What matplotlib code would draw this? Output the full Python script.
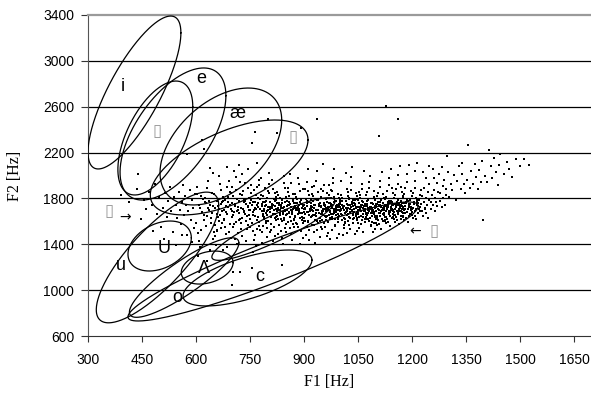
import numpy as np
import matplotlib
matplotlib.use("Agg")
import matplotlib.pyplot as plt

plt.rcParams['font.family'] = ['Liberation Sans', 'DejaVu Sans']

# ---------------- data ----------------
x_ticks = [300, 450, 600, 750, 900, 1050, 1200, 1350, 1500, 1650]
y_ticks = [600, 1000, 1400, 1800, 2200, 2600, 3000, 3400]

# vowel ellipses: centre F1, centre F2, half-range F1, half-range F2, correlation
ell_names = ["i", "ɪ", "e", "æ", "ɛ", "ɝ", "u", "o", "ɑ", "ɔ", "ʌ", "ʊ"]
ell_f1 = [429, 487, 536, 669, 692, 814, 493, 567, 815, 743, 631, 499]
ell_f2 = [2724, 2327, 2362, 2253, 2070, 1250, 1285, 1110, 1533, 1106, 1197, 1385]
ell_a = [129, 104, 147, 169, 219, 403, 170, 152, 171, 179, 72, 88]
ell_b = [667, 497, 576, 510, 414, 519, 570, 347, 273, 244, 144, 218]
ell_rho = [0.78, 0.55, 0.58, 0.45, 0.58, 0.93, 0.80, 0.87, 0.89, 0.64, 0.30, 0.33]

# vowel labels
lab_text = ["i", "e", "æ", "U", "u", "Λ", "o", "c"]
lab_f1 = [397, 614, 714, 511, 392, 622, 547, 778]
lab_f2 = [2772, 2842, 2545, 1359, 1219, 1193, 940, 1123]

# labels whose glyphs were missing (shown as empty boxes)
box_f1 = [492, 869, 358, 1261]
box_f2 = [2388, 2336, 1690, 1516]
arrow_text = ["→", "←"]
arrow_f1 = [403, 1208]
arrow_f2 = [1635, 1515]

# measured formant points (F1, F2)
pts = [
# sparse left part and outliers
(392,1830),(415,1765),(436,1880),(448,1620),(439,2013),
(455,1790),(462,1705),(470,1860),(478,1745),(485,1930),(492,1660),(497,1810),(480,1520),
(503,1555),(508,1720),(514,1845),(519,1640),(523,1775),(527,1900),(531,1690),(536,1505),(540,1810),(544,1745),(548,1625),(510,1450),(545,1390),
(552,1860),(555,1700),(558,1580),(561,1770),(564,1920),(567,1655),(570,1820),(573,1740),(576,1480),(579,1690),(582,1870),(585,1610),(588,1785),(591,1720),(594,1540),(597,1835),(560,1480),(590,1420),(575,2188),
(617,2310),(622,2231),(639,2065),(647,2022),(686,2074),(705,2040),(720,2090),(745,2060),(770,2110),
(756,2283),(764,2379),(800,2493),(825,2371),(892,2414),(937,2493),(1108,2345),(1128,2606),(1161,2493),
(605,1300),(630,1250),(658,1525),(675,1350),(700,1045),(703,1158),(722,1158),(755,1193),(758,1333),(839,1219),
# dense band, 25 Hz strips
(612,1713),(601,1588),(619,1796),(607,1431),(623,1655),(604,1842),(615,1527),(609,1741),(621,1610),(603,1902),(617,1683),(611,1376),(624,1768),(606,1495),(613,1820),
(638,1742),(627,1561),(645,1669),(631,1887),(649,1508),(634,1718),(641,1625),(626,1803),(647,1444),(636,1697),(629,1759),(643,1582),(633,1948),(648,1731),(640,1352),(630,1646),(644,1851),(637,1779),
(663,1704),(651,1835),(672,1587),(657,1668),(668,1752),(654,1471),(674,1813),(660,1636),(666,1928),(652,1719),(670,1544),(658,1781),(664,1603),(673,1693),(655,1398),(669,1871),(661,1736),(667,1652),(653,1564),(671,1769),(659,1512),(665,1995),
(688,1727),(679,1614),(697,1848),(683,1682),(692,1509),(676,1775),(699,1641),(685,1903),(681,1553),(694,1746),(677,1697),(690,1812),(698,1459),(686,1665),(680,1789),(695,1576),(684,1734),(691,1950),(678,1621),(696,1709),(687,1374),(693,1858),(682,1493),(689,1765),(699,1688),
(713,1694),(702,1823),(720,1612),(707,1749),(724,1533),(710,1877),(704,1659),(717,1726),(722,1941),(705,1581),(715,1795),(708,1448),(719,1671),(701,1762),(723,1620),(711,1985),(716,1703),(703,1555),(721,1839),(709,1734),(714,1406),(706,1685),(718,1778),(712,1597),(724,1713),(700,1904),(717,1502),
(739,1753),(728,1626),(746,1807),(733,1692),(749,1548),(731,1869),(743,1721),(726,1589),(737,1781),(748,1654),(735,1936),(729,1473),(744,1738),(740,1605),(727,1828),(747,1697),(732,1768),(742,1530),(736,1666),(745,1893),(730,1711),(741,1643),(738,1427),(734,1789),(749,1760),(728,2012),(744,1571),(732,1680),
(763,1718),(752,1851),(771,1640),(757,1767),(774,1562),(760,1695),(754,1913),(768,1744),(765,1480),(751,1623),(773,1803),(758,1679),(769,1537),(756,1741),(762,1872),(770,1612),(753,1785),(766,1706),(774,1961),(759,1655),(767,1829),(761,1441),(772,1728),(755,1584),(764,1771),(750,1699),(769,1898),(757,1519),(763,1649),(771,1758),(766,1383),
(788,1706),(777,1792),(795,1590),(782,1737),(799,1861),(785,1646),(779,1523),(792,1773),(797,1687),(776,1918),(790,1618),(783,1752),(798,1464),(780,1829),(794,1669),(786,1561),(778,1712),(796,1800),(789,1634),(781,1977),(793,1743),(784,1505),(799,1721),(787,1663),(791,1887),(776,1597),(795,1778),(782,1414),(790,1689),(785,1818),(797,1545),
(812,1733),(801,1602),(820,1849),(806,1681),(824,1757),(809,1526),(816,1794),(803,1930),(822,1640),(811,1718),(818,1469),(805,1771),(823,1609),(814,1883),(800,1697),(819,1738),(808,1581),(821,1812),(813,1663),(804,2021),(817,1550),(810,1751),(824,1692),(802,1844),(815,1428),(807,1726),(820,1626),(812,1964),(818,1779),(806,1506),(823,1704),
(837,1713),(826,1856),(845,1633),(831,1744),(849,1578),(834,1805),(841,1685),(828,1490),(846,1767),(836,1621),(843,1932),(829,1702),(848,1540),(839,1786),(833,1657),(827,1833),(844,1729),(838,1452),(832,1675),(847,1890),(840,1599),(830,1759),(842,1713),(835,1517),(849,1816),(826,1648),(844,1996),(836,1741),(831,1571),(841,1404),(846,1688),
(866,1693),(853,1779),(872,1552),(858,1824),(861,1640),(874,1736),(850,1507),(869,1711),(856,1891),(863,1599),(871,1760),(852,1665),(867,1436),(859,1747),(873,1622),(855,1853),(864,1728),(870,1578),(857,1684),(862,2010),(868,1797),(851,1658),(874,1719),(860,1541),(865,1938),(854,1702),(872,1614),(858,1771),(867,1683),(863,1492),(870,1842),(856,1745),
(881,1756),(894,1612),(877,1698),(889,1867),(897,1733),(884,1548),(891,1790),(876,1643),(899,1705),(886,1922),(880,1577),(893,1749),(888,1670),(878,1812),(896,1455),(883,1726),(890,1631),(898,1884),(885,1687),(879,1764),(892,1519),(895,1676),(882,1975),(887,1740),(899,1603),(876,1835),(894,1718),(884,1661),(890,1404),(881,1797),(897,1584),(886,1712),
(907,1680),(919,1784),(903,1606),(922,1722),(911,1865),(900,1743),(915,1528),(924,1658),(905,1799),(917,1692),(909,1941),(921,1571),(902,1715),(913,1827),(920,1636),(906,1481),(918,1756),(911,1683),(923,1903),(901,1625),(914,1768),(908,1547),(916,1707),(922,1839),(904,1662),(912,2055),(919,1732),(910,1592),(903,1881),(921,1698),(915,1437),(907,1775),
(934,1702),(948,1815),(927,1566),(941,1748),(930,1659),(946,1881),(937,1527),(925,1774),(943,1631),(932,1950),(949,1690),(928,1739),(939,1588),(945,1462),(926,1823),(942,1675),(935,1795),(931,1614),(947,1722),(938,1857),(929,1503),(944,1764),(933,1643),(940,1696),(936,2035),(948,1549),(927,1908),(942,1731),(931,1415),(946,1668),(937,1787),(943,1601),
(958,1741),(971,1626),(953,1868),(966,1707),(950,1532),(962,1792),(974,1663),(956,1585),(969,1828),(952,1694),(964,1476),(973,1756),(960,1639),(955,1917),(968,1725),(951,1611),(963,1848),(972,1682),(957,1547),(965,1773),(970,1921),(954,1656),(961,1716),(967,1498),(974,1803),(959,1734),(953,2098),(966,1597),(962,1688),(971,1445),(956,1762),(969,1652),
(983,1689),(996,1802),(978,1617),(991,1745),(975,1874),(987,1556),(999,1728),(981,1662),(994,1840),(977,1523),(989,1777),(998,1643),(985,1705),(980,1935),(993,1592),(976,1753),(988,1680),(997,1488),(982,1811),(990,1718),(995,1634),(979,1866),(986,1572),(992,1697),(999,1785),(984,2061),(978,1739),(991,1459),(987,1623),(996,1752),(981,1978),(994,1701),
(1008,1726),(1021,1604),(1003,1833),(1016,1681),(1000,1751),(1012,1543),(1024,1798),(1006,1652),(1019,1886),(1002,1712),(1014,1590),(1023,1745),(1010,1627),(1005,1807),(1018,1501),(1001,1768),(1013,1669),(1022,1859),(1007,1734),(1015,1618),(1020,1700),(1004,1952),(1011,1566),(1017,1778),(1024,1641),(1009,1483),(1003,1695),(1016,2018),(1012,1736),(1021,1822),(1006,1609),(1019,1687),
(1033,1698),(1046,1817),(1028,1631),(1041,1742),(1025,1569),(1037,1785),(1049,1664),(1031,1876),(1044,1716),(1027,1536),(1039,1760),(1048,1611),(1035,1731),(1030,1938),(1043,1649),(1026,1802),(1038,1684),(1047,1512),(1032,1771),(1040,1625),(1045,1847),(1029,1707),(1036,1588),(1042,1753),(1049,1676),(1034,2072),(1028,1739),(1041,1490),(1037,1658),(1046,1722),(1031,1983),(1044,1795),
(1058,1743),(1071,1621),(1053,1860),(1066,1699),(1050,1587),(1062,1774),(1074,1655),(1056,1806),(1069,1732),(1052,1545),(1064,1768),(1073,1640),(1060,1881),(1055,1711),(1068,1596),(1051,1789),(1063,1667),(1072,1829),(1057,1726),(1065,1510),(1070,1754),(1054,1638),(1061,1922),(1067,1694),(1074,1778),(1059,1573),(1053,1701),(1066,2041),(1062,1747),(1071,1663),(1056,1833),(1069,1617),
(1083,1712),(1096,1638),(1078,1799),(1091,1674),(1075,1852),(1087,1558),(1099,1737),(1081,1690),(1094,1816),(1077,1619),(1089,1763),(1098,1529),(1085,1705),(1080,1893),(1093,1661),(1076,1745),(1088,1592),(1097,1782),(1082,1728),(1090,1645),(1095,1869),(1079,1699),(1086,1571),(1092,1754),(1099,1622),(1084,1998),(1078,1720),(1091,1507),(1087,1676),(1096,1738),(1081,1947),(1094,1681),
(1108,1733),(1121,1656),(1103,1821),(1116,1696),(1100,1587),(1112,1769),(1124,1640),(1106,1847),(1119,1718),(1102,1565),(1114,1784),(1123,1671),(1110,1896),(1105,1709),(1118,1602),(1101,1754),(1113,1686),(1122,1808),(1107,1741),(1115,1534),(1120,1763),(1104,1627),(1111,1952),(1117,1701),(1124,1792),(1109,1580),(1103,1748),(1116,2028),(1112,1675),(1121,1727),(1106,1611),(1119,1838),
(1133,1726),(1146,1668),(1128,1812),(1141,1701),(1125,1603),(1137,1779),(1149,1652),(1131,1866),(1144,1739),(1127,1582),(1139,1761),(1148,1690),(1135,1918),(1130,1714),(1143,1625),(1126,1793),(1138,1678),(1147,1844),(1132,1750),(1140,1556),(1145,1771),(1129,1641),(1136,1982),(1142,1707),(1149,1803),(1134,1597),(1128,1735),(1141,2061),(1137,1664),(1146,1745),(1131,1620),(1144,1889),
(1158,1749),(1171,1684),(1153,1827),(1166,1713),(1150,1622),(1162,1786),(1174,1669),(1156,1879),(1169,1743),(1152,1598),(1164,1764),(1173,1704),(1160,1930),(1155,1727),(1168,1645),(1151,1804),(1163,1692),(1172,1853),(1157,1766),(1165,1575),(1170,1780),(1154,1657),(1161,2003),(1167,1721),(1174,1815),(1159,1611),(1153,1752),(1166,2079),(1162,1678),(1171,1757),(1156,1636),(1169,1901),
(1183,1758),(1196,1697),(1178,1838),(1191,1728),(1175,1640),(1187,1795),(1199,1683),(1181,1887),(1194,1754),(1177,1613),(1189,1776),(1198,1716),(1185,1942),(1180,1735),(1193,1660),(1176,1817),(1188,1704),(1197,1862),(1182,1771),(1190,1596),(1195,1790),(1179,1672),(1186,2016),(1192,1731),(1199,1823),(1184,1628),(1178,1761),(1191,2092),
(1206,1768),(1219,1706),(1203,1846),(1214,1739),(1200,1657),(1211,1802),(1223,1693),(1208,1895),(1217,1761),(1202,1631),(1213,1783),(1222,1725),(1209,1952),(1205,1748),(1216,1675),(1221,1828),(1212,1712),(1224,1870),(1207,2041),(1218,1790),(1210,1618),(1215,2105),
(1226,1755),(1228,1693),(1229,1817),(1231,1645),(1233,1772),(1234,1889),(1236,1717),(1238,1800),(1239,1670),(1241,1741),(1243,1852),(1244,1632),(1246,1785),(1248,1924),(1230,2030),(1240,1980),(1247,2080),(1235,1710),
(1252,1768),(1254,1705),(1256,1830),(1259,1745),(1261,1870),(1263,1690),(1265,1800),(1268,1935),(1270,1735),(1272,1860),(1274,2010),(1257,2060),(1266,1770),(1262,1980),
(1277,1780),(1279,1850),(1282,1725),(1285,1905),(1287,1800),(1290,1960),(1292,1745),(1295,1880),(1297,2170),(1299,2030),(1284,2075),(1293,1830),
(1303,1815),(1308,1930),(1312,1870),(1317,2005),(1321,1790),(1326,1950),(1331,2080),(1335,1880),(1340,2010),(1344,1925),(1348,1845),(1338,2110),
(1353,1960),(1356,2267),(1360,1890),(1365,2040),(1369,1930),(1374,2100),(1378,1990),(1383,1880),(1387,2050),(1391,1945),(1397,1612),(1395,2130),
(1403,2000),(1408,1940),(1414,2222),(1418,2080),(1423,1975),(1428,2150),(1433,2030),(1438,1920),(1442,2090),(1445,2187),
(1455,2010),(1463,2120),(1470,2060),(1478,1990),(1488,2140),(1500,2085),(1511,2144),(1525,2092),
# the darkest core of the cloud
(783,1688),(791,1731),(797,1652),(806,1705),(813,1744),(819,1668),(827,1720),(833,1695),(838,1761),(845,1612),(852,1737),(857,1671),(864,1702),(869,1779),(875,1641),(881,1714),(886,1683),(892,1748),(898,1627),(904,1706),(909,1762),(914,1655),(919,1720),(925,1688),(930,1741),(936,1604),(941,1677),(946,1733),(952,1709),(957,1645),(963,1696),(968,1758),(973,1622),(979,1715),(984,1674),(989,1737),(995,1660),(1000,1702),(1005,1779),(1011,1631),(1016,1715),(1021,1668),(1027,1744),(1032,1691),(1037,1617),(1043,1725),(1048,1683),(1053,1757),(1059,1649),(1064,1716),(1069,1686),(1075,1732),(1080,1604),(1085,1762),(1091,1697),(1096,1651),(1101,1724),(1107,1672),(1112,1741),(1117,1620),(1123,1708),(1128,1689),(1133,1766),(1139,1643),(1144,1712),(1149,1679),(1155,1738),(1160,1661),(1165,1697),(1171,1730),(1176,1648),(1181,1711),(1187,1685),(1192,1752),(1197,1667),(1203,1719),(1208,1694),(1214,1768),
(787,1765),(794,1599),(802,1729),(809,1640),(816,1698),(822,1786),(829,1617),(836,1735),(842,1664),(848,1702),(855,1593),(861,1751),(867,1661),(873,1724),(878,1588),(884,1697),(890,1769),(895,1639),(901,1678),(907,1731),(912,1604),(918,1783),(923,1650),(928,1713),(934,1669),(939,1790),(944,1628),(950,1684),(955,1742),(961,1610),(966,1727),(971,1691),(977,1636),(982,1766),(987,1701),(993,1624),(998,1747),(1003,1666),(1009,1713),(1014,1593),(1019,1752),(1025,1640),(1030,1721),(1035,1664),(1041,1786),(1046,1626),(1051,1695),(1057,1742),(1062,1608),(1067,1737),(1073,1671),(1078,1787),(1083,1633),(1089,1719),(1094,1590),(1099,1694),(1105,1765),(1110,1643),(1115,1726),(1121,1698),(1126,1616),(1132,1735),(1137,1691),(1142,1776),(1148,1634),(1153,1707),(1158,1690),(1164,1743),(1169,1621),(1175,1716),(1180,1672),(1185,1790),(1191,1645),(1196,1729),(1201,1706),(1207,1646),(1213,1791),
(951,1676),(958,1712),(964,1645),(970,1699),(976,1731),(983,1708),(988,1652),(994,1722),(1000,1687),(1006,1740),(1012,1702),(1018,1657),(1023,1718),(1029,1679),(1034,1750),(1040,1705),(1045,1660),(1052,1726),(1058,1693),(1063,1637),(1068,1709),(1074,1748),(1079,1669),(1085,1724),(1090,1686),(1097,1713),(1102,1651),(1108,1697),(1113,1731),(1119,1666),(1124,1745),(1130,1705),(1135,1677),(1141,1723),(1146,1696),(1152,1658),(1157,1741),(1163,1710),(1168,1686),(1174,1727),(1179,1700),
]
pt_f1 = [p[0] for p in pts]
pt_f2 = [p[1] for p in pts]

# ---------------- figure ----------------
fig = plt.figure(figsize=(5.91, 4.01), dpi=100)
W, H = 591, 401
ax = fig.add_axes([88 / W, (H - 336) / H, 503 / W, 321 / H])
ax.set_xlim(300, 1697)
ax.set_ylim(600, 3400)

ax.set_xticks(x_ticks)
ax.set_yticks(y_ticks)
ax.set_xticklabels([str(v) for v in x_ticks])
ax.set_yticklabels([str(v) for v in y_ticks])
ax.tick_params(axis='x', direction='out', length=4, width=0.8, colors='#333333',
               labelsize=10, pad=8)
ax.tick_params(axis='y', direction='out', length=5, width=0.8, colors='#333333',
               labelsize=10, pad=5)
for lbl in ax.get_xticklabels() + ax.get_yticklabels():
    lbl.set_color('black')

ax.spines['right'].set_visible(False)
ax.spines['top'].set_color('#9a9a9a')
ax.spines['top'].set_linewidth(1.6)
ax.spines['left'].set_color('#555555')
ax.spines['bottom'].set_color('#333333')

for v in y_ticks[1:-1]:
    ax.axhline(v, color='black', lw=0.9, zorder=1)

# scatter points
ax.scatter(pt_f1, pt_f2, s=3.4, marker='s', c='black', linewidths=0, zorder=2)

# ellipses
t = np.linspace(0, 2 * np.pi, 361)
for cx, cy, a, b, r in zip(ell_f1, ell_f2, ell_a, ell_b, ell_rho):
    phi = np.arccos(r)
    ax.plot(cx + a * np.cos(t), cy + b * np.cos(t - phi), color='black', lw=0.9, zorder=3)

# labels
for s, x, y in zip(lab_text, lab_f1, lab_f2):
    ax.text(x, y, s, fontsize=13, ha='center', va='center', zorder=4,
            family=['Liberation Sans', 'DejaVu Sans'])
for x, y in zip(box_f1, box_f2):
    ax.text(x, y, "▯", fontsize=12, ha='center', va='center', color='#9a9a9a',
            zorder=4, family=['DejaVu Sans'])
for s, x, y in zip(arrow_text, arrow_f1, arrow_f2):
    ax.text(x, y, s, fontsize=10, ha='center', va='center', zorder=4,
            family=['DejaVu Sans'])

ax.set_xlabel("F1 [Hz]", family=['Liberation Serif', 'DejaVu Serif'], fontsize=11.5)
ax.set_ylabel("F2 [Hz]", family=['Liberation Serif', 'DejaVu Serif'], fontsize=11.5)
ax.xaxis.set_label_coords(0.479, -0.118)
ax.yaxis.set_label_coords(-0.13, 0.5)

fig.savefig("out.png", dpi=100)
